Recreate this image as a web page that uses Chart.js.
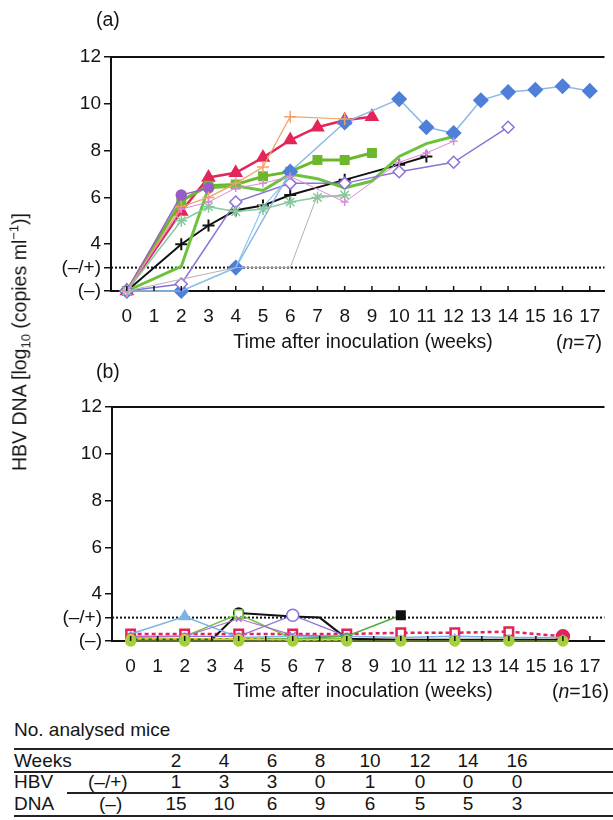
<!DOCTYPE html>
<html>
<head>
<meta charset="utf-8">
<script src="https://cdn.jsdelivr.net/npm/chart.js@4.4.1/dist/chart.umd.min.js"></script>
<style>
body{margin:0;background:#fff;width:613px;height:820px;overflow:hidden;position:relative;font-family:"Liberation Sans",Arial,sans-serif;color:#151515}
.t{position:absolute;white-space:nowrap;line-height:1;font-size:19.5px}
canvas{position:absolute;left:0}
.rule{position:absolute;background:#222;right:0}
</style>
</head>
<body>
<canvas id="chartA" width="613" height="360" style="top:0"></canvas>
<canvas id="chartB" width="613" height="340" style="top:360px"></canvas>

<div class="t" style="left:96px;top:10px">(a)</div>
<div class="t" style="left:96px;top:362px">(b)</div>
<div class="t" style="left:363px;top:342px;transform:translate(-50%,-50%)">Time after inoculation (weeks)</div>
<div class="t" style="left:556px;top:333px">(<i>n</i>=7)</div>
<div class="t" style="left:363px;top:691px;transform:translate(-50%,-50%)">Time after inoculation (weeks)</div>
<div class="t" style="left:552px;top:682px">(<i>n</i>=16)</div>
<div class="t" style="left:20px;top:342px;transform:translate(-50%,-50%) rotate(-90deg)">HBV DNA [log<sub style="font-size:13px">10</sub> (copies ml<sup style="font-size:13px">&minus;1</sup>)]</div>

<div id="table"></div>

<script>
// x positions (weeks) and y tick values
const weeks = [0, 1, 2, 3, 4, 5, 6, 7, 8, 9, 10, 11, 12, 13, 14, 15, 16, 17];
const yTicks = [2, 3, 4, 6, 8, 10, 12];
const yTickLabels = { 2: "(\u2013)", 3: "(\u2013/+)" };

// ---- panel (a), values by week index (null = not measured)
const aBlueDiamond = [2, null, 2, null, 3, null, 7.1, null, 9.2, null, 10.2, 9.0, 8.75, 10.15, 10.5, 10.6, 10.75, 10.55];
const aRedTriangle = [2, null, 5.4, 6.85, 7.05, 7.7, 8.45, 9.0, 9.3, 9.45];
const aGreenSquare = [2, null, 5.85, 6.5, 6.55, 6.9, 7.1, 7.6, 7.6, 7.9];
const aGreenLine = [2, null, 3.05, 6.4, 6.5, 6.3, 7.0, 6.8, 6.4, 6.7, 7.75, 8.3, 8.6];
const aMintCross = [2, null, 5.0, 5.6, 5.4, 5.5, 5.8, 6.0, 6.1];
const aBlack = [2, null, 4.0, 4.8, 5.45, 5.65, 6.1, null, 6.75, null, 7.4, 7.75];
const aPurpleDiamond = [2, null, 2.3, null, 5.8, null, 6.6, null, 6.6, null, 7.1, null, 7.5, null, 9.0];
const aPurpleCircle = [2, null, 6.1, 6.4];
const aOrangePlus = [2, null, 5.6, 6.0, 6.6, 7.3, 9.45, null, 9.35];
const aPinkPlus = [2, null, 5.5, 5.8, 6.4, 6.6, 6.9, null, 5.8, null, 7.5, 7.9, 8.4];
const aCyan = [2, null, 2, null, 3.0, 5.6, 6.9];
const aGrey = [2, null, null, null, 3.0, null, 3.0, 6.1, 6.0];

// ---- panel (b)
const bRedSquare = [2.3, null, 2.3, null, 2.3, null, 2.3, null, 2.3, null, 2.35, null, 2.35, null, 2.4, null, 2.2];
const bBlueTri = [2.3, null, 3.05, null, 2.15, null, 2.2, null, 2.2, null, 2.15, null, 2.2, null, 2.15, null, 2.15];
const bGreenSquare = [2.15, null, 2.2, null, 3.15, null, 2.1, null, 2.1];
const bBlackCircle = [2.05, null, 2.05, 2.05, 3.2, null, 3.05, 3.0, 2.1, null, 2.05, null, 2.05, null, 2.05, null, 2.05];
const bBlackSquare = [2.1, null, 2.1, null, 2.1, null, 2.1, null, 2.2, null, 3.1];
const bPurpleCircle = [2.2, null, 2.2, null, 2.2, null, 3.1, null, 2.2];
const bPurpleCross = [2.2, null, 2.2, null, 2.95, null, 2.25, null, 2.2];
const bYellow = [2.1, null, 2.1, null, 2.1, null, 2.05, null, 2.05];
const bLime = [2.0, null, 2.0, null, 2.0, null, 2.0, null, 2.0, null, 2.0, null, 2.0, null, 2.0, null, 2.0];

// ---- table: no. analysed mice
const tableWeeks = [2, 4, 6, 8, 10, 12, 14, 16];
const hbvLow = [1, 3, 3, 0, 1, 0, 0, 0];
const hbvNeg = [15, 10, 6, 9, 6, 5, 5, 3];

function pts(values) {
    return values.map((v, i) => v === null ? null : { x: weeks[i], y: v }).filter(p => p);
}

function ds(values, color, style, opts) {
    return Object.assign({
        data: pts(values),
        borderColor: color,
        backgroundColor: color,
        pointBackgroundColor: color,
        pointBorderColor: color,
        pointStyle: style,
        pointRadius: 5,
        borderWidth: 1.5,
        pointBorderWidth: 1.5,
        tension: 0,
        clip: false
    }, opts || {});
}

const font = { family: "'Liberation Sans', Arial, sans-serif", size: 19 };

const framePlugin = {
    id: "frame",
    beforeDatasetsDraw(chart) {
        const { ctx, chartArea, scales } = chart;
        const y3 = scales.y.getPixelForValue(3);
        ctx.save();
        ctx.strokeStyle = "#111";
        ctx.lineWidth = 2;
        ctx.setLineDash([2, 2]);
        ctx.beginPath();
        ctx.moveTo(chartArea.left, y3);
        ctx.lineTo(chartArea.right, y3);
        ctx.stroke();
        ctx.restore();
    },
    afterDraw(chart) {
        const { ctx, chartArea, scales } = chart;
        ctx.save();
        ctx.strokeStyle = "#111";
        ctx.lineWidth = 2;
        ctx.beginPath();
        ctx.moveTo(chartArea.left, chartArea.top);
        ctx.lineTo(chartArea.right, chartArea.top);
        ctx.stroke();
        // small inward ticks on the time axis
        ctx.lineWidth = 1.5;
        weeks.forEach(w => {
            const x = scales.x.getPixelForValue(w);
            ctx.beginPath();
            ctx.moveTo(x, chartArea.bottom);
            ctx.lineTo(x, chartArea.bottom - 5);
            ctx.stroke();
        });
        ctx.restore();
    }
};

function makeChart(id, datasets, xMin, axisLeft, top, bottom, height) {
    return new Chart(document.getElementById(id), {
        type: "line",
        data: { datasets: datasets },
        options: {
            responsive: false,
            animation: false,
            layout: { padding: { top: top, left: 0, right: 0, bottom: 0 } },
            plugins: { legend: { display: false }, tooltip: { enabled: false } },
            scales: {
                x: {
                    type: "linear",
                    min: xMin,
                    max: 17.54,
                    afterBuildTicks: s => { s.ticks = weeks.map(v => ({ value: v })); },
                    afterFit: s => { s.height = height - bottom; },
                    ticks: { font: font, color: "#151515", padding: 6, maxRotation: 0, autoSkip: false },
                    grid: { display: false },
                    border: { color: "#111", width: 2 }
                },
                y: {
                    min: 2,
                    max: 12,
                    afterBuildTicks: s => { s.ticks = yTicks.map(v => ({ value: v })); },
                    afterFit: s => { s.width = axisLeft; },
                    ticks: {
                        font: font,
                        color: "#151515",
                        padding: 3,
                        callback: v => yTickLabels[v] || String(v)
                    },
                    grid: { drawOnChartArea: false, tickLength: 7, color: "#111", lineWidth: 1.5 },
                    border: { color: "#111", width: 2 }
                }
            }
        },
        plugins: [framePlugin]
    });
}

const W = "#fff";

makeChart("chartA", [
    ds(aGrey, "#b9aeb0", false, { borderWidth: 1 }),
    ds(aCyan, "#8cc6ec", false, { borderWidth: 1.2 }),
    ds(aPinkPlus, "#d98ad8", "cross", { borderWidth: 1, pointRadius: 4 }),
    ds(aOrangePlus, "#f4a064", "cross", { borderWidth: 1.2, pointRadius: 6 }),
    ds(aMintCross, "#86c99a", "star", { borderWidth: 1.5, pointRadius: 6 }),
    ds(aPurpleDiamond, "#8d72d6", "rectRot", { pointBackgroundColor: W, pointRadius: 6 }),
    ds(aPurpleCircle, "#9a5cc8", "circle", { pointRadius: 5 }),
    ds(aBlueDiamond, "#8db8e6", "rectRot", { pointBackgroundColor: "#4f7fd8", pointBorderColor: "#4f7fd8", pointRadius: 7 }),
    ds(aGreenLine, "#6cc23a", false, { borderWidth: 3 }),
    ds(aGreenSquare, "#6cb82c", "rect", { borderWidth: 3, pointRadius: 6 }),
    ds(aBlack, "#111", "cross", { borderWidth: 2, pointRadius: 6, pointBorderWidth: 2 }),
    ds(aRedTriangle, "#e3265a", "triangle", { borderWidth: 2.5, pointRadius: 7 })
], -0.58, 111, 57, 291, 360);

makeChart("chartB", [
    ds(bLime, "#a3d13a", "circle", { borderWidth: 1, pointRadius: 5 }),
    ds(bYellow, "#f0c030", "circle", { borderWidth: 2, borderDash: [4, 3], pointRadius: 4 }),
    ds(bBlackSquare, "#56a83c", "rect", {
        pointBackgroundColor: c => c.dataIndex === 5 ? "#111" : "#56a83c",
        pointBorderColor: c => c.dataIndex === 5 ? "#111" : "#56a83c",
        pointRadius: c => c.dataIndex === 5 ? 6 : 2
    }),
    ds(bPurpleCross, "#b070c8", "crossRot", { borderWidth: 1.2, pointRadius: 4 }),
    ds(bPurpleCircle, "#8d72d6", "circle", { pointBackgroundColor: W, borderWidth: 1.2, pointRadius: c => c.dataIndex === 3 ? 6 : 3 }),
    ds(bBlueTri, "#7eb2ea", "triangle", { borderWidth: 1.5, pointRadius: c => c.dataIndex === 1 ? 6 : 2 }),
    ds(bGreenSquare, "#6cc23a", "rect", { pointBackgroundColor: W, pointRadius: c => c.dataIndex === 2 ? 6 : 3 }),
    ds(bBlackCircle, "#111", "circle", { borderWidth: 2, pointRadius: c => c.dataIndex === 3 ? 5 : 0 }),
    ds(bRedSquare, "#e0245a", "rect", {
        borderWidth: 2.5,
        borderDash: [4, 3],
        pointRadius: 6,
        pointBorderWidth: 2.5,
        pointStyle: c => c.dataIndex === 8 ? "circle" : "rect",
        pointBackgroundColor: c => c.dataIndex === 8 ? "#e0245a" : W
    })
], -0.69, 112, 47, 281, 340);

// table
const table = document.getElementById("table");
const colX = [176, 224, 272, 320, 370, 420, 468, 517];
function txt(s, x, y, center) {
    const d = document.createElement("div");
    d.className = "t";
    d.style.fontSize = "19px";
    d.style.left = x + "px";
    d.style.top = y + "px";
    if (center) d.style.transform = "translateX(-50%)";
    d.textContent = s;
    table.appendChild(d);
}
function rule(x, y, h) {
    const d = document.createElement("div");
    d.className = "rule";
    d.style.left = x + "px";
    d.style.top = y + "px";
    d.style.height = h + "px";
    table.appendChild(d);
}
txt("No. analysed mice", 14, 720);
rule(14, 748, 2);
txt("Weeks", 14, 751);
rule(14, 771, 1.5);
txt("HBV", 14, 772);
txt("(\u2013/+)", 88, 772);
rule(67, 792, 1.5);
txt("DNA", 14, 794);
txt("(\u2013)", 99, 794);
rule(14, 815, 2);
tableWeeks.forEach((w, i) => {
    txt(String(w), colX[i], 751, true);
    txt(String(hbvLow[i]), colX[i], 772, true);
    txt(String(hbvNeg[i]), colX[i], 794, true);
});
</script>
</body>
</html>
